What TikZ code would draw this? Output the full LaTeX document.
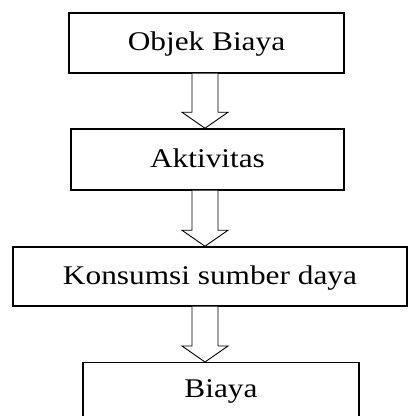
\documentclass[tikz,border=0pt]{standalone}
\usepackage{fontspec}
\setmainfont{Liberation Serif}[FakeStretch=1.16]
\usetikzlibrary{calc}
\begin{document}
\begin{tikzpicture}[x=1pt,y=1pt,
  boxstyle/.style={draw=black,line width=1.5pt,inner sep=0pt,
    font=\fontsize{27}{32}\selectfont,text height=16pt,text depth=0pt},
  hollowarr/.style={draw=black,line width=0.9pt,fill=white,line join=miter}]
\useasboundingbox (0,0) rectangle (409,416);
\clip (0,0) rectangle (409,416);
\node[boxstyle,minimum width=275pt,minimum height=60pt] (b1) at (206.5,373) {Objek Biaya};
\node[boxstyle,minimum width=273pt,minimum height=61pt] (b2) at (207.5,256.5) {Aktivitas};
\node[boxstyle,minimum width=394pt,minimum height=59pt] (b3) at (210,139.5) {Konsumsi sumber daya};
\node[boxstyle,minimum width=276pt,text height=35pt,text depth=25pt,anchor=north] (b4) at (221,54) {Biaya};
\coordinate (ax) at (205,0);
\foreach \a/\b in {b1/b2,b2/b3,b3/b4}{
  \draw[hollowarr] let \p1=(\a.south -| ax), \p2=(\b.north -| ax) in
    (\x1-13,\y1) -- (\x1-13,\y2+16) -- (\x1-23,\y2+16) -- (\x2,\y2)
    -- (\x1+23,\y2+16) -- (\x1+13,\y2+16) -- (\x1+13,\y1);
}
\end{tikzpicture}
\end{document}
